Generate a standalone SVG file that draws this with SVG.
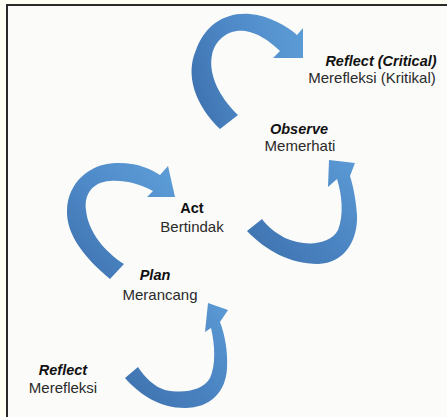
<svg xmlns="http://www.w3.org/2000/svg" width="447" height="417" viewBox="0 0 447 417">
  <defs>
    <linearGradient id="g1" x1="0" y1="0.6" x2="1" y2="0.3">
      <stop offset="0" stop-color="#3f74b1"/>
      <stop offset="0.45" stop-color="#4f89c8"/>
      <stop offset="1" stop-color="#5b9bd5"/>
    </linearGradient>
    <linearGradient id="g2" x1="0.2" y1="1" x2="1" y2="0.2">
      <stop offset="0" stop-color="#3f74b1"/>
      <stop offset="0.5" stop-color="#4f89c8"/>
      <stop offset="1" stop-color="#5b9bd5"/>
    </linearGradient>
    <linearGradient id="g3" x1="0" y1="0.9" x2="1" y2="0">
      <stop offset="0" stop-color="#3e72ae"/>
      <stop offset="0.5" stop-color="#4b84c2"/>
      <stop offset="1" stop-color="#5b9bd5"/>
    </linearGradient>
    <style>
      .t { font-family: "Liberation Sans", Arial, sans-serif; font-size: 15px; fill: #2a2a2a; text-anchor: middle; }
      .bi { font-weight: bold; font-style: italic; fill: #111; font-size: 14.5px; }
      .b { font-weight: bold; fill: #111; font-size: 14.5px; }
    </style>
  </defs>
  <rect x="0" y="0" width="447" height="417" fill="#fffff3"/>
  <rect x="7" y="5" width="460" height="430" fill="#fbfbf9" stroke="#2a2a2a" stroke-width="2"/>

  <g id="connectors">
    <path d="M 220,129 C 195,105 185,75 196,50 C 205,25 225,12 250,14 C 270,16 287,26 297,35 L 303,28 L 303,58 L 273,58 L 280,51 C 268,40 258,33 245,31 C 228,29 215,40 212,55 C 208,75 220,98 238,115 Z" fill="url(#g1)"/>
    <path d="M 110,279 C 85,258 66,235 67,210 C 68,182 90,164 115,163 C 135,162 150,168 160,175 L 168,166 L 175,197 L 147,197 L 153,191 C 140,184 125,180 110,181 C 92,182 84,195 86,210 C 88,232 105,252 124,264 Z" fill="url(#g2)"/>
    <path d="M 247,231 C 265,250 290,264 318,264 C 345,263 358,240 357,215 C 356,200 353,185 350,176 L 355,163 L 329,160 L 328,187 L 337,179 C 342,195 344,215 338,230 C 330,245 305,247 285,238 C 276,233 268,227 262,219 Z" fill="url(#g3)"/>
    <path d="M 125,378 C 140,395 160,408 185,408 C 210,408 226,392 227,368 C 228,352 225,335 220,322 L 228,310 L 208,303 L 205,332 L 211,328 C 215,345 216,365 210,378 C 203,390 185,394 165,390 C 155,387 145,378 138,367 Z" fill="url(#g3)"/>
  </g>

  <g id="reflect-critical">
    <text class="t bi" x="381" y="66">Reflect (Critical)</text>
    <text class="t" x="372" y="83">Merefleksi (Kritikal)</text>
  </g>
  <g id="observe">
    <text class="t bi" x="299" y="134">Observe</text>
    <text class="t" x="300" y="151">Memerhati</text>
  </g>
  <g id="act">
    <text class="t b" x="192" y="213">Act</text>
    <text class="t" x="192" y="232">Bertindak</text>
  </g>
  <g id="plan">
    <text class="t bi" x="155" y="280">Plan</text>
    <text class="t" x="160" y="300">Merancang</text>
  </g>
  <g id="reflect">
    <text class="t bi" x="63" y="375">Reflect</text>
    <text class="t" x="63" y="393">Merefleksi</text>
  </g>
</svg>
